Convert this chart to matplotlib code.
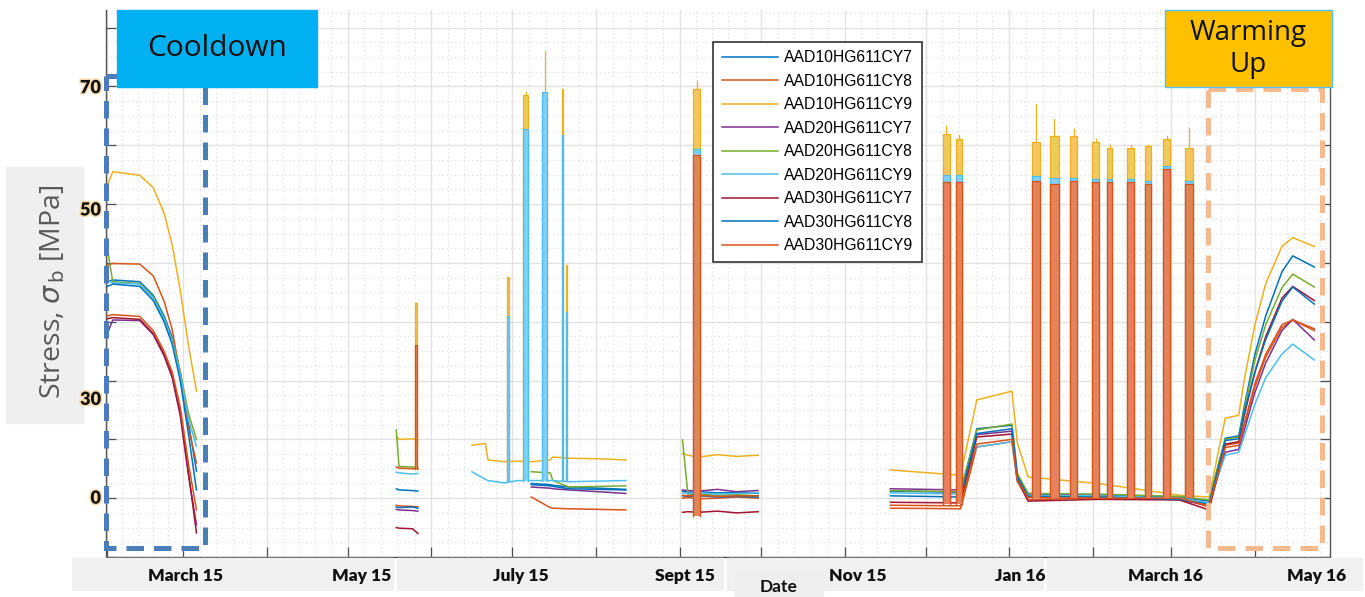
import numpy as np
import pandas as pd
import matplotlib
matplotlib.use("Agg")
import matplotlib.pyplot as plt
import matplotlib.dates as mdates
import matplotlib.transforms as mtransforms
import matplotlib.patheffects as pe
from matplotlib.colors import to_rgb
from matplotlib.patches import Rectangle
from matplotlib.ticker import MultipleLocator, FixedLocator, NullFormatter

nan = np.nan

# sensor names and matlab default colours
names = ["AAD10HG611CY7", "AAD10HG611CY8", "AAD10HG611CY9",
         "AAD20HG611CY7", "AAD20HG611CY8", "AAD20HG611CY9",
         "AAD30HG611CY7", "AAD30HG611CY8", "AAD30HG611CY9"]
colors = ["#0072BD", "#D95319", "#EDB120", "#7E2F8E", "#77AC30",
          "#4DBEEE", "#A2142F", "#0072BD", "#D95319"]

# --- cooldown, Feb/March 2015
cool_dates = ["2015-02-01", "2015-02-03", "2015-02-13", "2015-02-18", "2015-02-22",
              "2015-02-25", "2015-02-28", "2015-03-03", "2015-03-06"]
cool_vals = [
    [36.8, 37.1, 36.8, 34.5, 31.0, 27.4, 21.5, 13.0, 4.6],
    [39.6, 39.9, 39.8, 37.8, 33.5, 28.7, 21.0, 12.0, 6.0],
    [53.2, 55.5, 54.9, 52.8, 48.5, 43.1, 35.3, 26.1, 18.2],
    [28.0, 30.3, 30.2, 27.8, 24.2, 20.5, 14.0, 4.0, -4.5],
    [42.4, 36.8, 36.5, 34.2, 30.6, 27.0, 21.5, 14.5, 10.0],
    [37.0, 36.6, 36.4, 34.0, 30.5, 26.8, 21.0, 13.5, 8.8],
    [30.5, 30.7, 30.4, 28.0, 24.5, 20.9, 14.5, 4.5, -5.9],
    [36.0, 36.4, 36.0, 33.6, 30.0, 26.2, 20.0, 11.0, 1.4],
    [31.0, 31.2, 30.9, 28.5, 25.0, 21.5, 15.5, 6.0, -2.0],
]

# --- late May 2015
may_dates = ["2015-05-19", "2015-05-20", "2015-05-25", "2015-05-27"]
may_vals = [
    [1.6, 1.4, 1.3, 1.2],
    [-1.2, -1.3, -1.4, -1.5],
    [10.4, 10.0, 10.1, 9.9],
    [-1.9, -2.0, -2.1, -2.2],
    [11.6, 5.4, 5.3, 5.2],
    [4.4, 4.3, 4.1, 4.2],
    [-5.0, -5.1, -5.2, -6.0],
    [-1.5, -1.6, -1.5, -1.7],
    [5.3, 5.1, 5.0, 5.0],
]

# --- June to August 2015
jul_dates = ["2015-06-16", "2015-06-21", "2015-06-22", "2015-06-28", "2015-07-03", "2015-07-08",
             "2015-07-15", "2015-07-16", "2015-07-22", "2015-08-02", "2015-08-12"]
jul_vals = [
    [nan, nan, nan, nan, nan, 2.5, 2.3, 2.2, 1.9, 1.7, 1.5],
    [nan, nan, nan, nan, nan, 0.2, -1.6, -1.7, -1.8, -1.9, -2.0],
    [9.0, 9.3, 6.5, 6.2, 6.3, 6.2, 6.5, 7.0, 6.8, 6.7, 6.5],
    [nan, nan, nan, nan, nan, 1.9, 1.7, 1.6, 1.4, 1.1, 0.8],
    [nan, nan, nan, nan, nan, 4.5, 4.3, 3.0, 1.9, 2.0, 2.1],
    [4.5, 3.2, 3.0, 2.6, 3.0, 3.0, 3.0, 3.0, 2.8, 2.9, 3.0],
    [nan] * 11,
    [nan, nan, nan, nan, nan, 2.3, 2.1, 2.0, 1.6, 1.5, 1.4],
    [nan] * 11,
]

# --- September 2015
sep_dates = ["2015-09-02", "2015-09-04", "2015-09-08", "2015-09-15", "2015-09-22", "2015-09-30"]
sep_vals = [
    [1.2, 1.0, 1.1, 0.9, 1.0, 0.8],
    [0.0, 0.1, -0.1, 0.0, 0.2, 0.0],
    [7.6, 7.3, 7.0, 7.4, 7.1, 7.3],
    [1.4, 1.3, 1.2, 1.5, 1.1, 1.3],
    [9.9, 0.6, 0.7, 0.5, 0.6, 0.4],
    [0.9, 0.8, 0.9, 0.7, 0.8, 0.9],
    [-2.4, -2.3, -2.4, -2.2, -2.5, -2.3],
    [0.4, 0.3, 0.4, 0.2, 0.3, 0.2],
    [0.5, 0.4, 0.5, 0.3, 0.4, 0.4],
]

# --- November 2015 to warm-up, April 2016
win_dates = ["2015-11-18", "2015-12-14", "2015-12-20", "2016-01-02", "2016-01-04", "2016-01-08",
             "2016-02-03", "2016-03-04", "2016-03-15", "2016-03-21", "2016-03-26", "2016-03-28",
             "2016-04-01", "2016-04-05", "2016-04-11", "2016-04-15", "2016-04-23"]
win_vals = [
    [1.2, 1.0, 11.8, 12.4, 4.0, 0.6, 0.5, 0.2, -0.5, 10.2, 10.6, 15.5, 24.5, 31.0, 38.5, 41.2, 39.3],
    [-1.7, -1.8, 8.7, 9.6, 2.8, -0.3, 0.1, 0.0, -1.5, 9.0, 9.4, 12.5, 19.0, 24.0, 29.0, 30.3, 28.8],
    [4.8, 3.9, 16.7, 18.2, 9.4, 3.6, 2.5, 0.5, 0.2, 13.6, 14.1, 20.0, 29.5, 36.5, 42.8, 44.3, 42.8],
    [1.6, 1.4, 10.8, 11.4, 3.4, 0.8, 0.4, -0.3, -1.2, 7.8, 8.3, 11.5, 18.0, 23.0, 28.5, 30.4, 26.9],
    [1.3, 1.1, 11.6, 12.6, 4.2, 0.8, 0.7, 0.3, -0.3, 10.0, 10.4, 15.0, 23.5, 29.5, 35.8, 38.1, 35.9],
    [0.9, 0.7, 8.7, 9.6, 2.9, 0.5, 0.4, 0.0, -0.8, 7.3, 7.8, 10.5, 16.0, 20.5, 24.5, 26.2, 23.5],
    [-0.7, -0.8, 10.4, 10.9, 3.2, -0.5, -0.2, -0.3, -2.0, 9.2, 9.6, 14.0, 21.5, 27.5, 34.0, 36.0, 33.6],
    [0.4, 0.2, 11.0, 11.8, 3.6, 0.3, 0.2, -0.2, -1.0, 9.8, 10.1, 14.5, 21.5, 27.0, 33.5, 35.9, 33.0],
    [-1.2, -1.3, 9.2, 10.0, 3.0, 0.1, 0.0, 0.0, -1.3, 8.6, 9.0, 12.5, 19.5, 24.5, 29.5, 30.3, 28.5],
]

segments = [(cool_dates, cool_vals), (may_dates, may_vals), (jul_dates, jul_vals),
            (sep_dates, sep_vals), (win_dates, win_vals)]

# --- spike bursts (start, length in days, bottom, tops of CY9 channels)
burst_start = ["2015-05-26 00:00", "2015-06-29 00:00", "2015-07-04 22:00", "2015-07-12 00:00",
               "2015-07-19 10:00", "2015-07-20 22:00", "2015-09-05 22:00", "2015-12-07 12:00",
               "2015-12-12 08:00", "2016-01-09 14:00", "2016-01-16 00:00", "2016-01-23 14:00",
               "2016-01-31 16:00", "2016-02-06 08:00", "2016-02-13 16:00", "2016-02-20 10:00",
               "2016-02-27 00:00", "2016-03-06 02:00"]
burst_days = [0.7, 0.7, 1.9, 1.8, 0.4, 0.4, 2.6, 2.5, 2.2, 2.9, 3.4, 2.6, 2.6, 1.9, 2.6, 2.2, 2.7, 2.9]
burst_base = [5.0, 3.0, 3.0, 3.0, 3.0, 3.0, -3.0, -1.0, -1.0, 0.0, 0.0, 0.0, 0.0, 0.0, 0.0, 0.0, 0.0, 0.0]
top_10cy9 = [33.2, 37.6, 68.6, 68.0, 69.5, 39.7, 69.5, 62.0, 61.0, 60.5, 61.5, 61.5, 60.5, 59.6, 59.6, 59.8, 61.0, 59.5]
peak_10cy9 = [33.2, 37.6, 69.0, 76.0, 69.5, 39.7, 71.0, 63.2, 61.8, 67.0, 64.5, 62.7, 61.0, 60.0, 60.0, 60.0, 61.5, 63.0]
top_20cy9 = [nan, 31.0, 62.7, 69.0, 61.8, 31.7, 59.4, 55.0, 55.0, 54.8, 54.5, 54.5, 54.2, 54.2, 54.2, 54.0, 56.5, 54.0]
top_30cy9 = [26.0, nan, nan, nan, nan, nan, 58.3, 53.7, 53.7, 53.9, 53.5, 54.0, 53.7, 53.8, 53.8, 53.5, 56.0, 53.5]
burst_tops = {2: top_10cy9, 5: top_20cy9, 8: top_30cy9}

# axis tick labels (as in the slide)
xlab_text = ["March 15", "May 15", "July 15", "Sept 15", "Nov 15", "Jan 16", "March 16", "May 16"]
xlab_pos = ["2015-03-02", "2015-05-06", "2015-07-04", "2015-09-03", "2015-11-06",
            "2016-01-05", "2016-02-28", "2016-04-24"]
ylab_text = ["70", "50", "30", "0"]
ylab_pos = [69.8, 49.0, 16.8, 0.0]


def dn(d):
    return mdates.date2num(pd.to_datetime(d))


def lighter(c, f=0.3):
    r, g, b = to_rgb(c)
    return (r + (1 - r) * f, g + (1 - g) * f, b + (1 - b) * f)


W, H = 1365, 597
fig = plt.figure(figsize=(W / 100, H / 100), dpi=100)
ax = fig.add_axes([106 / W, (H - 557) / H, (1330 - 106) / W, (557 - 10) / H])

handles = []
for i in range(9):
    for k, (dates, vals) in enumerate(segments):
        x = [dn(d) for d in dates]
        ln, = ax.plot(x, vals[i], color=colors[i], lw=1.1, zorder=2 + i * 0.1)
        if k == 0:
            handles.append(ln)
    if i in burst_tops:
        tops = burst_tops[i]
        for j in range(len(burst_start)):
            if np.isnan(tops[j]):
                continue
            t0 = dn(burst_start[j])
            t1 = t0 + burst_days[j]
            b = burst_base[j]
            ax.fill_between([t0, t1], b, tops[j], color=lighter(colors[i], 0.28), lw=0,
                            zorder=2 + i * 0.1)
            ax.plot([t0, t0, t1, t1], [b, tops[j], tops[j], b], color=colors[i], lw=0.9,
                    zorder=2 + i * 0.1)
            if i == 2 and peak_10cy9[j] > tops[j]:
                tm = t0 + burst_days[j] * 0.5
                ax.plot([tm, tm], [tops[j], peak_10cy9[j]], color=colors[i], lw=0.9,
                        zorder=2 + i * 0.1)

ax.set_xlim(dn("2015-01-31 12:00"), dn("2016-04-28 19:00"))
ax.set_ylim(-10, 83)

# grid like matlab: monthly majors, 5 subdivisions
months = pd.date_range("2015-01-01", "2016-06-01", freq="MS")
mnum = [dn(m) for m in months]
minors = []
for a, b in zip(mnum[:-1], mnum[1:]):
    minors += [a + (b - a) * k / 5 for k in range(1, 5)]
ax.xaxis.set_major_locator(FixedLocator(mnum))
ax.xaxis.set_minor_locator(FixedLocator(minors))
ax.yaxis.set_major_locator(MultipleLocator(10))
ax.yaxis.set_minor_locator(MultipleLocator(2.5))
ax.xaxis.set_major_formatter(NullFormatter())
ax.yaxis.set_major_formatter(NullFormatter())
ax.grid(which="major", color="#E2E2E2", lw=1.0, ls="-", zorder=0)
ax.grid(which="minor", color="#E3E3E3", lw=0.9, ls=(0, (1.2, 2.2)), zorder=0)
ax.set_axisbelow(True)
ax.tick_params(which="major", direction="in", length=7, width=0.9, color="#505050",
               right=True, top=False)
ax.tick_params(which="minor", length=0)
for s in ["left", "bottom", "right"]:
    ax.spines[s].set_color("#555555")
    ax.spines[s].set_linewidth(1.0)
ax.spines["top"].set_visible(False)

leg = ax.legend(handles, names, loc="upper left", bbox_to_anchor=(0.496, 0.942),
                borderaxespad=0, fancybox=False, framealpha=1, edgecolor="#222222",
                prop={"family": "Liberation Sans", "size": 11.3}, handlelength=3.6,
                handletextpad=0.35, labelspacing=0.54, borderpad=0.55)
leg.get_frame().set_linewidth(1.1)
leg.set_zorder(10)

# overlay in pixel coordinates for the slide decorations
ov = fig.add_axes([0, 0, 1, 1], zorder=5)
ov.set_xlim(0, W)
ov.set_ylim(H, 0)
ov.axis("off")
ov.patch.set_alpha(0)

# grey label backgrounds
for x0, x1 in [(72, 393), (397, 723), (727, 1043), (1047, 1362)]:
    ov.add_patch(Rectangle((x0, 558), x1 - x0, 32, color="#F0F0F0", zorder=0))
ov.add_patch(Rectangle((735, 572), 88, 25, color="#EEEEEE", zorder=0))
ov.text(779, 587, "Date", ha="center", va="center", fontsize=12.5, fontweight="bold",
        family="Lato", color="#111111")
ov.add_patch(Rectangle((6, 167), 77, 256, color="#EFEFEF", zorder=0))
ov.text(53, 292, r"Stress, $\sigma_{\,\rm b}$ [MPa]", rotation=90, ha="center", va="center",
        fontsize=20.5, family="Open Sans", color="#5A5A5A")

# tick labels written on top, as in the slide
bt = mtransforms.blended_transform_factory(ax.transData, ov.transData)
for t, p in zip(xlab_text, xlab_pos):
    ov.text(dn(p), 576, t, transform=bt, ha="center", va="center", fontsize=12.5,
            fontweight="heavy", family="Lato", color="#111111", zorder=3)
lt = mtransforms.blended_transform_factory(ov.transData, ax.transData)
for t, p in zip(ylab_text, ylab_pos):
    ov.text(101, p, t, transform=lt, ha="right", va="center", fontsize=13,
            fontweight="heavy", family="Lato", color="#111111", zorder=3,
            path_effects=[pe.withStroke(linewidth=2.2, foreground="#F8D9A8")])

# highlighted phases
ov.add_patch(Rectangle((106, 76), 99, 472, fill=False, ec="#4A7DBA", lw=3.6,
                       ls=(0, (3.5, 2)), zorder=2))
ov.add_patch(Rectangle((1208, 89), 114, 459, fill=False, ec="#F8BA8C", lw=3.6,
                       ls=(0, (3.5, 2)), zorder=2))
ov.add_patch(Rectangle((117, 10), 200, 77, color="#00B0F0", zorder=2))
ov.text(217, 49, "Cooldown", ha="center", va="center", fontsize=21.5, family="Open Sans",
        color="#111111", zorder=3)
ov.add_patch(Rectangle((1165, 10), 167, 77, fc="#FFC000", ec="#4FC3F7", lw=1.0, zorder=2))
ov.text(1248, 49, "Warming\nUp", ha="center", va="center", fontsize=20, family="Open Sans",
        color="#111111", linespacing=1.15, zorder=3)

fig.savefig("out.png", dpi=100)
